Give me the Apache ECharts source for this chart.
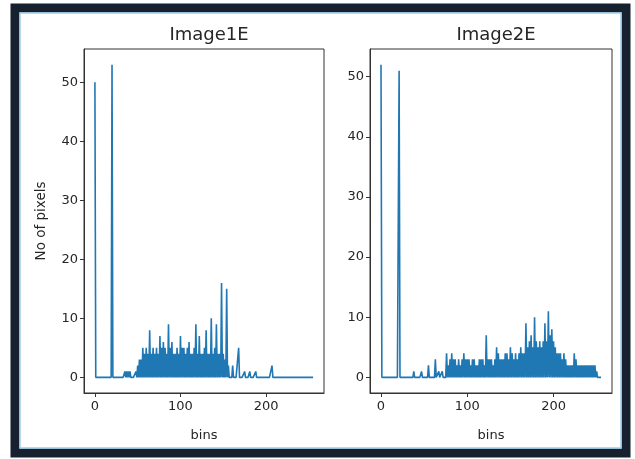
<!DOCTYPE html>
<html>
<head>
<meta charset="utf-8">
<script src="https://cdn.jsdelivr.net/npm/echarts@6/dist/echarts.min.js"></script>
<style>
  html, body { margin: 0; padding: 0; background: #fff; }
  #main { width: 635px; height: 459px; }
</style>
</head>
<body>
<div id="main"></div>
<script>
// histogram bins 0..255
var bins = [];
for (var i = 0; i < 256; i++) bins.push(i);

// Image1E pixel counts per bin (16 per row)
var image1Counts = [
  50,0,0,0,0,0,0,0,0,0,0,0,0,0,0,0,
  0,0,0,0,53,0,0,0,0,0,0,0,0,0,0,0,
  0,0,0,1,0,1,0,1,0,1,0,0,0,0,0,0,
  1,0,2,0,3,0,3,0,5,0,4,0,5,0,4,0,
  8,0,4,0,5,0,4,0,5,0,4,0,7,0,5,0,
  6,0,5,0,4,0,9,0,5,0,6,0,4,0,4,0,
  5,0,4,0,7,0,5,0,5,0,4,0,5,0,6,0,
  4,0,4,0,5,0,9,0,4,0,7,0,4,0,4,0,
  5,0,8,0,4,0,4,0,10,0,4,0,5,0,9,0,
  4,0,4,0,16,0,4,0,3,0,15,0,2,0,0,0,
  0,2,0,0,0,0,0,0,5,0,0,0,0,0,0,1,
  0,0,0,0,0,1,0,0,0,0,0,0,1,0,0,0,
  0,0,0,0,0,0,0,0,0,0,0,0,0,0,0,2,
  0,0,0,0,0,0,0,0,0,0,0,0,0,0,0,0,
  0,0,0,0,0,0,0,0,0,0,0,0,0,0,0,0,
  0,0,0,0,0,0,0,0,0,0,0,0,0,0,0,0
];

// Image2E pixel counts per bin (16 per row)
var image2Counts = [
  52,0,0,0,0,0,0,0,0,0,0,0,0,0,0,0,
  0,0,0,0,0,51,0,0,0,0,0,0,0,0,0,0,
  0,0,0,0,0,0,1,0,0,0,0,0,0,0,0,1,
  0,0,0,0,0,0,0,2,0,0,0,0,0,0,0,3,
  0,0,0,1,0,0,0,1,0,0,0,0,4,0,2,0,
  3,0,4,0,3,0,3,0,2,0,3,0,2,0,3,0,
  4,0,3,0,3,0,3,0,2,0,3,0,3,0,2,0,
  2,0,3,0,3,0,3,0,2,0,7,0,3,0,3,0,
  3,0,2,0,3,0,5,0,4,0,3,0,3,0,3,0,
  4,0,4,0,3,0,5,0,4,0,3,0,4,0,3,0,
  4,0,5,0,4,0,4,0,9,0,5,0,6,0,7,0,
  5,0,10,0,6,0,5,0,6,0,5,0,6,0,9,0,
  6,0,11,0,7,0,8,0,6,0,5,0,4,0,4,0,
  4,0,3,0,4,0,3,0,2,0,2,0,2,0,2,0,
  4,0,3,0,2,0,2,0,2,0,2,0,2,0,2,0,
  2,0,2,0,2,0,2,0,2,0,1,0,0,0,0,0
];

var titles = ['Image1E', 'Image2E'];
var xTicks = [0, 100, 200];
var yTicks = [0, 10, 20, 30, 40, 50];
var xLabel = 'bins';
var yLabel = 'No of pixels';

function pairs(counts) {
  return bins.map(function (b, i) { return [b, counts[i]]; });
}

// matplotlib style 5% margins
function padRange(lo, hi) {
  var m = (hi - lo) * 0.05;
  return [lo - m, hi + m];
}

var xr = padRange(0, 255);
var yr1 = padRange(0, Math.max.apply(null, image1Counts));
var yr2 = padRange(0, Math.max.apply(null, image2Counts));

var textColor = '#262626';
var font = 'DejaVu Sans';

function xAxisOpt(idx) {
  return {
    type: 'value', gridIndex: idx, min: xr[0], max: xr[1],
    name: xLabel, nameLocation: 'middle', nameGap: 36,
    nameTextStyle: { color: textColor, fontSize: 13, fontFamily: font },
    splitLine: { show: false },
    axisLine: { show: true, onZero: false, lineStyle: { color: '#333', width: 1 } },
    axisTick: { show: true, length: 4, customValues: xTicks, lineStyle: { color: '#333' } },
    axisLabel: { customValues: xTicks, color: textColor, fontSize: 13, fontFamily: font, margin: 7 }
  };
}

function yAxisOpt(idx, yr, withName) {
  return {
    type: 'value', gridIndex: idx, min: yr[0], max: yr[1],
    name: withName ? yLabel : '', nameLocation: 'middle', nameGap: 36, nameRotate: 90,
    nameTextStyle: { color: textColor, fontSize: 13.5, fontFamily: font },
    splitLine: { show: false },
    axisLine: { show: true, onZero: false, lineStyle: { color: '#333', width: 1 } },
    axisTick: { show: true, length: 4, customValues: yTicks, lineStyle: { color: '#333' } },
    axisLabel: { customValues: yTicks, color: textColor, fontSize: 13, fontFamily: font, margin: 6 }
  };
}

var chart = echarts.init(document.getElementById('main'));

chart.setOption({
  backgroundColor: '#fff',
  animation: false,
  title: [
    { text: titles[0], left: 204, top: 21, textAlign: 'center',
      textStyle: { color: textColor, fontSize: 18, fontWeight: 'normal', fontFamily: font } },
    { text: titles[1], left: 491, top: 21, textAlign: 'center',
      textStyle: { color: textColor, fontSize: 18, fontWeight: 'normal', fontFamily: font } }
  ],
  grid: [
    { left: 84, top: 49, width: 240, height: 344, show: true, borderColor: '#333', borderWidth: 1, backgroundColor: 'transparent' },
    { left: 370, top: 49, width: 242, height: 344, show: true, borderColor: '#333', borderWidth: 1, backgroundColor: 'transparent' }
  ],
  xAxis: [xAxisOpt(0), xAxisOpt(1)],
  yAxis: [yAxisOpt(0, yr1, true), yAxisOpt(1, yr2, false)],
  series: [
    { type: 'line', xAxisIndex: 0, yAxisIndex: 0, data: pairs(image1Counts),
      showSymbol: false, lineStyle: { color: '#1f77b4', width: 1.6 } },
    { type: 'line', xAxisIndex: 1, yAxisIndex: 1, data: pairs(image2Counts),
      showSymbol: false, lineStyle: { color: '#1f77b4', width: 1.6 } }
  ],
  graphic: [
    { type: 'rect', silent: true, z: 100,
      shape: { x: 15, y: 8, width: 611, height: 445 },
      style: { fill: 'none', stroke: '#17202e', lineWidth: 9 } },
    { type: 'rect', silent: true, z: 101,
      shape: { x: 20, y: 13, width: 601, height: 435 },
      style: { fill: 'none', stroke: '#9fd0ec', lineWidth: 1.5 } }
  ]
});
</script>
</body>
</html>
